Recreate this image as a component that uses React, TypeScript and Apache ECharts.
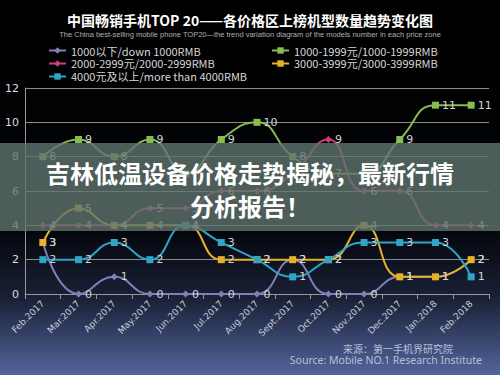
import React, { useEffect, useRef } from "react";
import * as echarts from "echarts";

const categories = ["Feb.2017", "Mar.2017", "Apr.2017", "May.2017", "Jun.2017", "Jul.2017", "Aug.2017", "Sept.2017", "Oct.2017", "Nov.2017", "Dec.2017", "Jan.2018", "Feb.2018"];
const seriesNames = [
  "1000以下/down 1000RMB",
  "1000-1999元/1000-1999RMB",
  "2000-2999元/2000-2999RMB",
  "3000-3999元/3000-3999RMB",
  "4000元及以上/more than 4000RMB",
];
const under1000 = [3, 0, 1, 0, 0, 0, 0, 2, 0, 0, 1, 1, 2];
const r1000to1999 = [8, 9, 8, 9, 7, 9, 10, 8, 7, 7, 9, 11, 11];
const r2000to2999 = [4, 4, 4, 5, 5, 6, 6, 7, 9, 6, 6, 4, 4];
const r3000to3999 = [3, 5, 4, 4, 4, 2, 2, 2, 2, 4, 1, 1, 2];
const over4000 = [2, 2, 3, 2, 4, 3, 2, 1, 2, 3, 3, 3, 1];
const yTicks = { min: 0, max: 12, interval: 2 };

const colors = ["#8080b8", "#86bc52", "#cc3f7a", "#e6b22c", "#2ea4c6"];
const symbols = ["diamond", "rect", "diamond", "rect", "rect"];
const allData = [under1000, r1000to1999, r2000to2999, r3000to3999, over4000];

export default function App() {
  const ref = useRef<HTMLDivElement>(null);
  useEffect(() => {
    if (!ref.current) return;
    const chart = echarts.init(ref.current, null, { renderer: "svg" });
    const series = allData.map((d, i) => ({
      name: seriesNames[i],
      type: "line",
      data: d,
      smooth: true,
      symbol: symbols[i],
      symbolSize: 7,
      lineStyle: { color: colors[i], width: 2 },
      itemStyle: { color: colors[i] },
      label: {
        show: true,
        position: "right",
        distance: 3,
        color: "#d4d4d4",
        fontSize: 11,
        fontFamily: "DejaVu Sans",
      },
    }));
    const legendText = { color: "#d6d6d6", fontSize: 11, fontFamily: "Noto Sans CJK SC" };
    chart.setOption({
      animation: false,
      backgroundColor: {
        type: "linear",
        x: 0, y: 0, x2: 0, y2: 1,
        colorStops: [
          { offset: 0, color: "#000000" },
          { offset: 0.6, color: "#030409" },
          { offset: 0.8, color: "#1b2238" },
          { offset: 1, color: "#52659c" },
        ],
      },
      color: colors,
      title: {
        text: "中国畅销手机TOP 20——各价格区上榜机型数量趋势变化图",
        subtext: "The China best-selling mobile phone TOP20—the trend variation diagram of the models number in each price zone",
        left: "center",
        top: 8,
        itemGap: 4,
        textStyle: { color: "#ffffff", fontSize: 14, fontWeight: "bold", fontFamily: "Noto Sans CJK SC" },
        subtextStyle: { color: "#b0b0b0", fontSize: 7.5, fontFamily: "Liberation Sans" },
      },
      legend: [
        {
          data: [seriesNames[0], seriesNames[2], seriesNames[4]],
          orient: "vertical",
          left: 43,
          top: 40,
          itemGap: 2,
          itemWidth: 17,
          itemHeight: 8,
          textStyle: legendText,
        },
        {
          data: [seriesNames[1], seriesNames[3]],
          orient: "vertical",
          left: 266,
          top: 40,
          itemGap: 2,
          itemWidth: 17,
          itemHeight: 8,
          textStyle: legendText,
        },
      ],
      grid: { left: 25, right: 11, top: 88, bottom: 81 },
      xAxis: {
        type: "category",
        data: categories,
        boundaryGap: true,
        axisLine: { lineStyle: { color: "#9a9a9a" } },
        axisTick: { show: true, lineStyle: { color: "#9a9a9a" } },
        axisLabel: { rotate: 45, color: "#c8ccd8", fontSize: 9, margin: 8, fontFamily: "DejaVu Sans" },
      },
      yAxis: {
        type: "value",
        min: yTicks.min,
        max: yTicks.max,
        interval: yTicks.interval,
        axisLine: { show: true, lineStyle: { color: "#9a9a9a" } },
        axisTick: { show: false },
        splitLine: { lineStyle: { color: "#8a8a8a", width: 1 } },
        axisLabel: { color: "#dcdcdc", fontSize: 11, margin: 6, fontFamily: "DejaVu Sans" },
      },
      series,
      graphic: [
        {
          type: "rect",
          z: 100,
          shape: { x: 0, y: 143, width: 500, height: 88 },
          style: { fill: "rgba(96,116,110,0.8)" },
        },
        {
          type: "text",
          z: 101,
          x: 250,
          y: 172,
          style: {
            text: "吉林低温设备价格走势揭秘，最新行情",
            fill: "#ffffff",
            font: "bold 24px 'Noto Sans CJK SC'",
            textAlign: "center",
            textVerticalAlign: "middle",
          },
        },
        {
          type: "text",
          z: 101,
          x: 250,
          y: 205,
          style: {
            text: "分析报告！",
            fill: "#ffffff",
            font: "bold 24px 'Noto Sans CJK SC'",
            textAlign: "center",
            textVerticalAlign: "middle",
          },
        },
        {
          type: "text",
          z: 101,
          x: 398,
          y: 348,
          style: {
            text: "来源：第一手机界研究院",
            fill: "#b8c0d8",
            font: "10px 'Noto Sans CJK SC'",
            textAlign: "center",
            textVerticalAlign: "middle",
          },
        },
        {
          type: "text",
          z: 101,
          x: 482,
          y: 360,
          style: {
            text: "Source: Mobile NO.1 Research Institute",
            fill: "#b8c0d8",
            font: "10.5px 'Noto Sans'",
            textAlign: "right",
            textVerticalAlign: "middle",
          },
        },
      ],
    });
    return () => chart.dispose();
  }, []);
  return (
    <div
      ref={ref}
      style={{ position: "fixed", left: 0, top: 0, width: 500, height: 375 }}
    />
  );
}
